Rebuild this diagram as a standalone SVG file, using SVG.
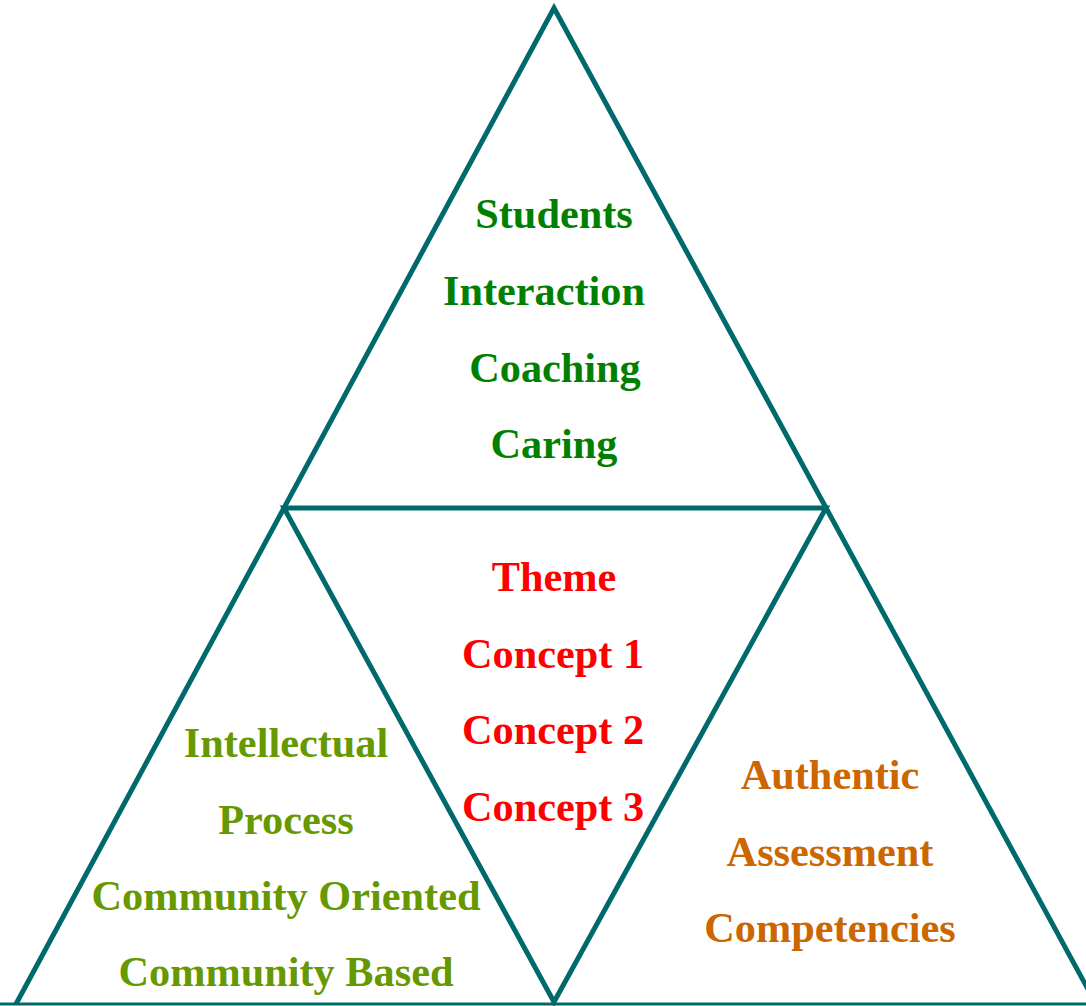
<svg xmlns="http://www.w3.org/2000/svg" width="1086" height="1006" viewBox="0 0 1086 1006">
<style>
.edge{fill:none;stroke:#00696B;stroke-width:5;stroke-linejoin:miter}
text{font-family:"Liberation Serif","Times New Roman",serif;font-weight:bold;font-size:42.3px;text-anchor:middle}
.g{fill:#008000}.r{fill:#FF0000}.o{fill:#669900}.b{fill:#CC6600}
</style>
<rect width="1086" height="1006" fill="#fff"/>
<g id="connectors">
<polyline class="edge" points="16,1004 554,8 1096,1004"/>
<line class="edge" x1="0" y1="1004" x2="1086" y2="1004" style="stroke-width:3"/>
<polygon class="edge" points="284,508 826,508 554,1002"/>
</g>
<g id="top">
<text class="g" x="554" y="228">Students</text>
<text class="g" x="544" y="305">Interaction</text>
<text class="g" x="555" y="382">Coaching</text>
<text class="g" x="554" y="458">Caring</text>
</g>
<g id="center">
<text class="r" x="554" y="591">Theme</text>
<text class="r" x="553" y="668">Concept 1</text>
<text class="r" x="553" y="744">Concept 2</text>
<text class="r" x="553" y="821">Concept 3</text>
</g>
<g id="left">
<text class="o" x="286" y="757">Intellectual</text>
<text class="o" x="286" y="834">Process</text>
<text class="o" x="286" y="910">Community Oriented</text>
<text class="o" x="286" y="986">Community Based</text>
</g>
<g id="right">
<text class="b" x="830" y="789">Authentic</text>
<text class="b" x="830" y="866">Assessment</text>
<text class="b" x="830" y="942">Competencies</text>
</g>
</svg>
